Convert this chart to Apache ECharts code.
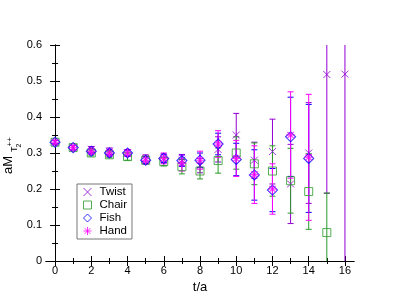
<!DOCTYPE html>
<html><head><meta charset="utf-8">
<script src="https://cdn.jsdelivr.net/npm/echarts@6/dist/echarts.min.js"></script>
<style>html,body{margin:0;padding:0;background:#fff}#c{width:399px;height:308px}</style>
</head><body><div id="c"></div>
<script>
const tVals = [0,1,2,3,4,5,6,7,8,9,10,11,12,13,14,15,16];
const twistVal = [0.330,0.315,0.310,0.305,0.300,0.285,0.285,0.280,0.265,0.310,0.350,0.280,0.304,0.214,0.300,0.518,0.519];
const twistErr = [0.005,0.006,0.008,0.009,0.009,0.010,0.012,0.016,0.020,0.035,0.060,0.050,0.090,0.110,0.140,0.330,0.700];
const chairVal = [0.330,0.315,0.300,0.295,0.290,0.280,0.276,0.262,0.250,0.279,0.300,0.270,0.250,0.223,0.193,0.079,null];
const chairErr = [0.005,0.006,0.008,0.008,0.010,0.010,0.012,0.020,0.022,0.035,0.045,0.058,0.070,0.090,0.105,0.110,null];
const fishVal  = [0.330,0.315,0.305,0.300,0.300,0.280,0.285,0.279,0.280,0.325,0.282,0.239,0.197,0.345,0.285,null,null];
const fishErr  = [0.005,0.006,0.007,0.008,0.008,0.010,0.012,0.016,0.020,0.030,0.045,0.070,0.060,0.110,0.150,null,null];
const handVal  = [0.330,0.315,0.305,0.300,0.300,0.280,0.285,0.272,0.280,0.325,0.285,0.240,0.200,0.350,0.288,null,null];
const handErr  = [0.005,0.006,0.008,0.009,0.009,0.011,0.015,0.022,0.025,0.037,0.050,0.080,0.070,0.120,0.175,null,null];
const seriesNames = ['Twist','Chair','Fish','Hand'];
const xMajorTicks = [0,2,4,6,8,10,12,14,16];
const xMinorTicks = [1,3,5,7,9,11,13,15];
const yTicks = [0,0.1,0.2,0.3,0.4,0.5,0.6];

const X_MIN=-0.5, X_MAX=16.5, Y_MIN=0, Y_MAX=0.6;
const colors = {Twist:'#9400d3', Chair:'#2a9a2a', Fish:'#0000ff', Hand:'#ff00ff'};
const FONT = 'Liberation Sans, Arial, Helvetica, sans-serif';

function pts(vals){ return tVals.map((t,i)=> vals[i]==null? null : [t, vals[i]]).filter(d=>d); }
function errs(vals, e){ return tVals.map((t,i)=> vals[i]==null? null : [t, vals[i]-e[i], vals[i]+e[i]]).filter(d=>d); }

function errRender(color){
  return function(params, api){
    const x = api.value(0), lo = api.value(1), hi = api.value(2);
    const loC = Math.max(lo, Y_MIN), hiC = Math.min(hi, Y_MAX);
    const p1 = api.coord([x, loC]), p2 = api.coord([x, hiC]);
    const hw = 3;
    const st = {stroke: color, lineWidth: 1, fill: null};
    const ch = [{type:'line', shape:{x1:p1[0],y1:p1[1],x2:p2[0],y2:p2[1]}, style: st}];
    if (hi <= Y_MAX) ch.push({type:'line', shape:{x1:p2[0]-hw,y1:p2[1],x2:p2[0]+hw,y2:p2[1]}, style: st});
    if (lo >= Y_MIN) ch.push({type:'line', shape:{x1:p1[0]-hw,y1:p1[1],x2:p1[0]+hw,y2:p1[1]}, style: st});
    return {type:'group', children: ch};
  };
}

const symX = 'path://M0,0L10,10M10,0L0,10';
const symStar = 'path://M5,0L5,10M0,5L10,5M1.5,1.5L8.5,8.5M1.5,8.5L8.5,1.5';

const axisLineStyle = {show:true, lineStyle:{color:'#000', width:1}};
function xAx(pos, gridIndex, ticks, len, showLabels, showLine){
  return {
    type:'value', gridIndex, position: pos, min:X_MIN, max:X_MAX,
    axisLine: showLine ? axisLineStyle : {show:false},
    splitLine:{show:false},
    axisTick:{show:true, inside:true, length: len, customValues: ticks, lineStyle:{color:'#000'}},
    axisLabel: showLabels ? {show:true, customValues: xMajorTicks, color:'#000', fontSize:11, fontFamily:FONT, margin:4} : {show:false},
    name: (showLabels ? 't/a' : ''), nameLocation:'middle', nameGap:19,
    nameTextStyle:{color:'#000', fontSize:13, fontFamily:FONT}
  };
}
function yAx(pos, gridIndex, showLabels, show){
  return {
    type:'value', gridIndex, position: pos, min:Y_MIN, max:Y_MAX, interval:0.1,
    axisLine: show ? axisLineStyle : {show:false},
    splitLine:{show:false},
    axisTick:{show:show, inside:true, length:5, lineStyle:{color:'#000'}},
    minorTick:{show:show, splitNumber:2, length:3, lineStyle:{color:'#000'}},
    axisLabel: showLabels ? {show:true, color:'#000', fontSize:11, fontFamily:FONT, margin:4,
      formatter: v => (Math.abs(v)<1e-9 ? '0' : v.toFixed(1))} : {show:false}
  };
}

const option = {
  animation:false,
  backgroundColor:'#fff',
  grid:[
    {left:46, top:45, width:308, height:216},
    {left:46, top:45, width:308, height:216}
  ],
  xAxis:[
    xAx('bottom',0,xMajorTicks,5,true,true),
    xAx('top',0,xMajorTicks,5,false,true),
    xAx('bottom',1,xMinorTicks,3,false,false),
    xAx('top',1,xMinorTicks,3,false,false)
  ],
  yAxis:[
    yAx('left',0,true,true),
    yAx('right',0,false,true),
    yAx('left',1,false,false),
    yAx('right',1,false,false)
  ],
  legend:{
    data: seriesNames,
    orient:'vertical', left:77, top:184,
    itemWidth:8, itemHeight:8, itemGap:1,
    padding:[2,5,2,6],
    borderColor:'#777', borderWidth:1,
    backgroundColor:'#fff',
    itemStyle:{borderWidth:1},
    textStyle:{color:'#000', fontSize:11.5, fontFamily:FONT, lineHeight:12, padding:[0,0,0,3]}
  },
  graphic:[
    {type:'text', x:8, y:174, rotation:Math.PI/2, style:{text:'aM', fontSize:13, fontFamily:FONT, fill:'#000', align:'left', verticalAlign:'middle'}},
    {type:'text', x:15, y:152, rotation:Math.PI/2, style:{text:'T', fontSize:9, fontFamily:FONT, fill:'#000', align:'left', verticalAlign:'middle'}},
    {type:'text', x:19, y:147.5, rotation:Math.PI/2, style:{text:'2', fontSize:7, fontFamily:FONT, fill:'#000', align:'left', verticalAlign:'middle'}},
    {type:'text', x:9.5, y:146.5, rotation:Math.PI/2, style:{text:'++', fontSize:8, fontFamily:FONT, fill:'#000', align:'left', verticalAlign:'middle'}}
  ],
  series:[
    {name:'TwistErr', type:'custom', renderItem: errRender(colors.Twist), data: errs(twistVal,twistErr), z:2, silent:true},
    {name:'ChairErr', type:'custom', renderItem: errRender(colors.Chair), data: errs(chairVal,chairErr), z:2, silent:true},
    {name:'FishErr', type:'custom', renderItem: errRender(colors.Fish), data: errs(fishVal,fishErr), z:2, silent:true},
    {name:'HandErr', type:'custom', renderItem: errRender(colors.Hand), data: errs(handVal,handErr), z:2, silent:true},
    {name:'Twist', type:'scatter', symbol:symX, symbolSize:7, data: pts(twistVal), z:3,
      itemStyle:{color:'transparent', borderColor:colors.Twist, borderWidth:1}},
    {name:'Chair', type:'scatter', symbol:'rect', symbolSize:8, data: pts(chairVal), z:3,
      itemStyle:{color:'transparent', borderColor:colors.Chair, borderWidth:1}},
    {name:'Fish', type:'scatter', symbol:'diamond', symbolSize:10, data: pts(fishVal), z:4,
      itemStyle:{color:'transparent', borderColor:colors.Fish, borderWidth:1.1}},
    {name:'Hand', type:'scatter', symbol:symStar, symbolSize:9, data: pts(handVal), z:5,
      itemStyle:{color:'transparent', borderColor:colors.Hand, borderWidth:1.1}}
  ]
};
const chart = echarts.init(document.getElementById('c'), null, {renderer:'canvas'});
chart.setOption(option);
</script></body></html>
